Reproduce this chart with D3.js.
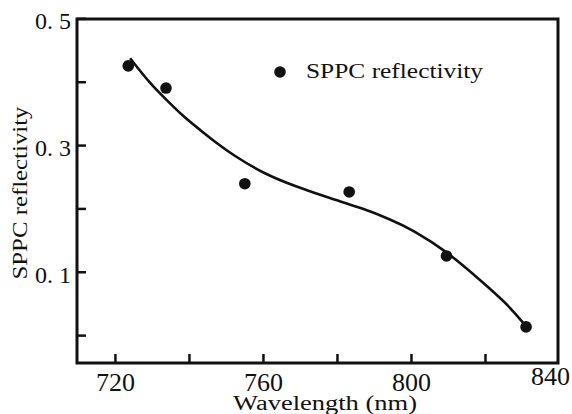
<!DOCTYPE html>
<html>
<head>
<meta charset="utf-8">
<script src="https://cdn.jsdelivr.net/npm/d3@7"></script>
<style>
  html, body { margin: 0; padding: 0; background: #fff; }
  svg { display: block; }
</style>
</head>
<body>
<svg id="chart" width="572" height="414"></svg>
<script>
// Measured data points (wavelength nm, reflectivity)
const pointWavelengths = [723.6, 733.8, 755.1, 783.3, 809.6, 831.1];
const pointReflectivity = [0.425, 0.390, 0.239, 0.226, 0.125, 0.013];

// Fitted curve
const curveWavelengths = [724.1, 729.5, 734.0, 738.5, 743.0, 747.5, 752.0, 760.1, 769.1, 778.1, 787.1, 794.3, 800.6, 809.7, 818.7, 825.9, 830.8];
const curveReflectivity = [0.437, 0.397, 0.371, 0.345, 0.324, 0.303, 0.284, 0.255, 0.234, 0.216, 0.200, 0.183, 0.166, 0.132, 0.087, 0.050, 0.016];

// Ticks
const xTicks = [720, 740, 760, 780, 800, 820, 840];
const xTickLabels = ["720", "", "760", "", "800", "", "840"];
const yTicks = [0.0, 0.1, 0.2, 0.3, 0.4, 0.5];
const yTickLabels = ["", "0. 1", "", "0. 3", "", "0. 5"];

const legendLabel = "SPPC reflectivity";
const xTitle = "Wavelength (nm)";
const yTitle = "SPPC reflectivity";

(function () {
const svg = d3.select("#chart");
const mLeft = 77, mRight = 558, mTop = 19, mBottom = 363;
const serif = "'Liberation Serif', 'Times New Roman', serif";
const ink = "#111";

const x = d3.scaleLinear().domain([709.75, 840]).range([mLeft, 559]);
const y = d3.scaleLinear().domain([-0.044, 0.499]).range([mBottom, mTop]);

// X axis (ticks inward)
const xAxis = d3.axisBottom(x)
  .tickValues(xTicks)
  .tickSize(-9)
  .tickPadding(28)
  .tickFormat((d, i) => xTickLabels[i]);
const gx = svg.append("g").attr("transform", `translate(0,${mBottom})`).call(xAxis);
gx.select(".domain").remove();
gx.selectAll(".tick line").attr("stroke", ink).attr("stroke-width", 2.5);
gx.selectAll(".tick text")
  .attr("font-family", serif).attr("font-size", 26).attr("fill", ink)
  .attr("dy", "0");
gx.selectAll(".tick").filter(d => d === 840).select("text")
  .attr("dx", -9).attr("dy", -6);
gx.selectAll(".tick").filter(d => d === 840).select("line").remove();

// Y axis (ticks inward)
const yAxis = d3.axisLeft(y)
  .tickValues(yTicks)
  .tickSize(-9)
  .tickPadding(6)
  .tickFormat((d, i) => yTickLabels[i]);
const gy = svg.append("g").attr("transform", `translate(${mLeft},0)`).call(yAxis);
gy.select(".domain").remove();
gy.selectAll(".tick line").attr("stroke", ink).attr("stroke-width", 2.5);
gy.selectAll(".tick text")
  .attr("font-family", serif).attr("font-size", 24).attr("fill", ink)
  .attr("dy", "0.44em");

// Frame
svg.append("rect")
  .attr("x", mLeft).attr("y", mTop)
  .attr("width", mRight - mLeft).attr("height", mBottom - mTop)
  .attr("fill", "none").attr("stroke", ink).attr("stroke-width", 3);

// Fitted curve
const curveData = curveWavelengths.map((w, i) => [w, curveReflectivity[i]]);
svg.append("path")
  .datum(curveData)
  .attr("d", d3.line().x(d => x(d[0])).y(d => y(d[1])).curve(d3.curveBasis))
  .attr("fill", "none").attr("stroke", ink).attr("stroke-width", 2.6);

// Points
const pts = pointWavelengths.map((w, i) => [w, pointReflectivity[i]]);
svg.append("g").selectAll("circle").data(pts).join("circle")
  .attr("cx", d => x(d[0])).attr("cy", d => y(d[1]))
  .attr("r", 5.8).attr("fill", ink);

// Legend
svg.append("circle").attr("cx", 280).attr("cy", 72).attr("r", 5.8).attr("fill", ink);
svg.append("text")
  .attr("x", 306).attr("y", 78)
  .attr("font-family", serif).attr("font-size", 22).attr("fill", ink)
  .attr("textLength", 177).attr("lengthAdjust", "spacingAndGlyphs")
  .text(legendLabel);

// Axis titles
svg.append("text")
  .attr("x", 325).attr("y", 410)
  .attr("text-anchor", "middle")
  .attr("font-family", serif).attr("font-size", 20).attr("fill", ink)
  .attr("textLength", 184).attr("lengthAdjust", "spacingAndGlyphs")
  .text(xTitle);

svg.append("text")
  .attr("transform", "translate(27,193) rotate(-90)")
  .attr("text-anchor", "middle")
  .attr("font-family", serif).attr("font-size", 21).attr("fill", ink)
  .attr("textLength", 173).attr("lengthAdjust", "spacingAndGlyphs")
  .text(yTitle);
})();
</script>
</body>
</html>
